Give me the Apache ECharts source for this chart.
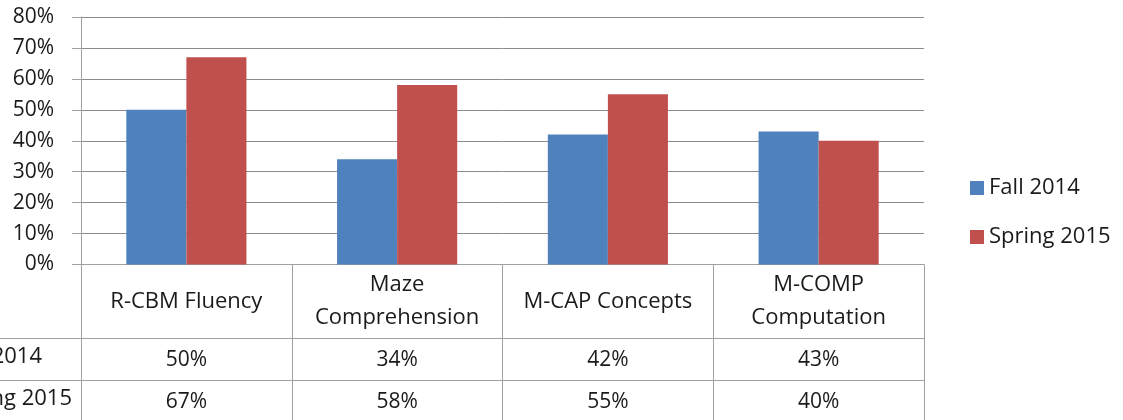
<!DOCTYPE html>
<html><head><meta charset="utf-8">
<script src="https://cdn.jsdelivr.net/npm/echarts@6/dist/echarts.min.js"></script>
<style>html,body{margin:0;padding:0;background:#fff}#c{width:1123px;height:420px}</style>
</head><body><div id="c"></div>
<script>
const categories = ['R-CBM Fluency', 'Maze\nComprehension', 'M-CAP Concepts', 'M-COMP\nComputation'];
const seriesNames = ['Fall 2014', 'Spring 2015'];
const fall2014 = [50, 34, 42, 43];
const spring2015 = [67, 58, 55, 40];
const yTicks = [0, 10, 20, 30, 40, 50, 60, 70, 80];

const FONT = 'Open Sans';
const FS = 22;
const FSN = 21;
const TXT = '#1a1a1a';
const LINE = '#a0a0a0';
const pct = v => v + '%';

const chart = echarts.init(document.getElementById('c'), null, {renderer: 'canvas'});
const base = {type: 'category', data: categories, position: 'bottom', gridIndex: 0};
chart.setOption({
  animation: false,
  textStyle: {fontFamily: FONT},
  grid: {left: 81, right: 199, top: 17, bottom: 155.5, containLabel: false},
  legend: {
    orient: 'vertical', left: 965, top: 172, itemGap: 27,
    itemWidth: 14, itemHeight: 14, icon: 'rect',
    textStyle: {fontFamily: FONT, fontSize: FS, color: TXT, padding: [0,0,0,0]},
    data: seriesNames
  },
  xAxis: [
    Object.assign({}, base, {
      axisLine: {show: true, lineStyle: {color: LINE, width: 1}},
      axisTick: {show: true, inside: false, length: 170, alignWithLabel: false, lineStyle: {color: LINE}},
      axisLabel: {margin: 37, verticalAlign: 'middle', fontFamily: FONT, fontSize: FS, color: TXT, lineHeight: 33, align: 'center', interval: 0}
    }),
    Object.assign({}, base, {
      offset: 74,
      axisLine: {show: true, lineStyle: {color: LINE, width: 1}},
      axisTick: {show: false},
      axisLabel: {margin: 22, verticalAlign: 'middle', fontFamily: FONT, fontSize: FSN, color: TXT, interval: 0,
        formatter: (v, i) => pct(fall2014[i])}
    }),
    Object.assign({}, base, {
      offset: 116,
      axisLine: {show: true, lineStyle: {color: LINE, width: 1}},
      axisTick: {show: false},
      axisLabel: {margin: 22, verticalAlign: 'middle', fontFamily: FONT, fontSize: FSN, color: TXT, interval: 0,
        formatter: (v, i) => pct(spring2015[i])}
    })
  ],
  yAxis: {
    type: 'value', min: yTicks[0], max: yTicks[yTicks.length - 1], interval: 10,
    axisLine: {show: true, lineStyle: {color: LINE}},
    axisTick: {show: true, length: 9, lineStyle: {color: LINE}},
    axisLabel: {margin: 27, fontFamily: FONT, fontSize: FSN, color: TXT, formatter: pct},
    splitLine: {show: true, lineStyle: {color: '#8c8c8c', width: 1}}
  },
  series: [
    {name: seriesNames[0], type: 'bar', xAxisIndex: 0, data: fall2014, barGap: '0%', barCategoryGap: '43%', itemStyle: {color: '#4F81BD'}},
    {name: seriesNames[1], type: 'bar', xAxisIndex: 0, data: spring2015, barGap: '0%', barCategoryGap: '43%', itemStyle: {color: '#C0504D'}}
  ],
  graphic: [
    {type: 'line', shape: {x1: 0, y1: 338.5, x2: 81, y2: 338.5}, style: {stroke: LINE, lineWidth: 1}, silent: true},
    {type: 'line', shape: {x1: 0, y1: 380.5, x2: 81, y2: 380.5}, style: {stroke: LINE, lineWidth: 1}, silent: true},
    {type: 'text', right: 1123 - 42, top: 346, style: {text: seriesNames[0], font: FS + 'px ' + FONT, fill: TXT, textAlign: 'right'}, silent: true},
    {type: 'text', right: 1123 - 72, top: 388, style: {text: seriesNames[1], font: FS + 'px ' + FONT, fill: TXT, textAlign: 'right'}, silent: true}
  ]
});
</script></body></html>
